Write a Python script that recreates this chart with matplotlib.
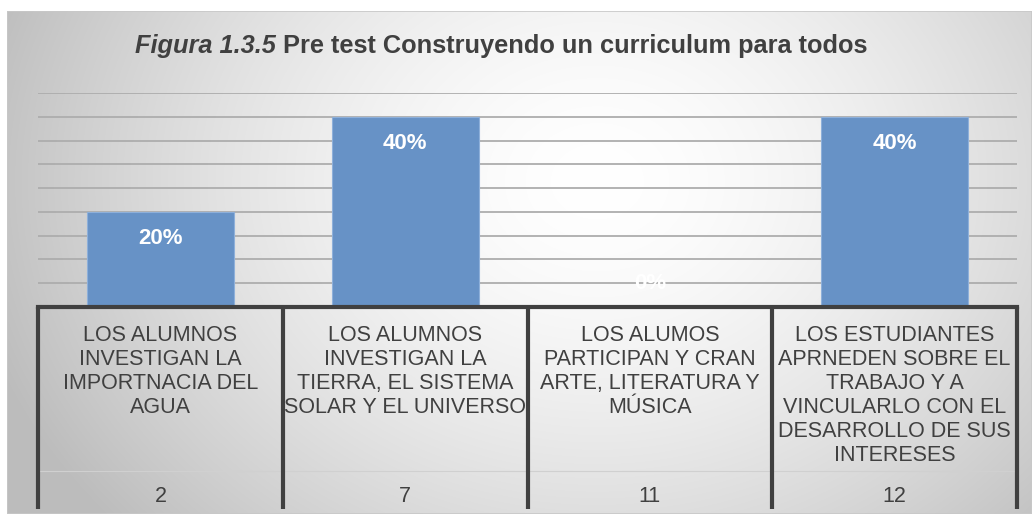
import numpy as np
import matplotlib
matplotlib.use("Agg")
import matplotlib.pyplot as plt
import matplotlib.ticker as mticker

# ---------------------------------------------------------------------------
# Data
# ---------------------------------------------------------------------------

categories = [
    "LOS ALUMNOS\nINVESTIGAN LA\nIMPORTNACIA DEL\nAGUA",
    "LOS ALUMNOS\nINVESTIGAN LA\nTIERRA, EL SISTEMA\nSOLAR Y EL UNIVERSO",
    "LOS ALUMOS\nPARTICIPAN Y CRAN\nARTE, LITERATURA Y\nMÚSICA",
    "LOS ESTUDIANTES\nAPRNEDEN SOBRE EL\nTRABAJO Y A\nVINCULARLO CON EL\nDESARROLLO DE SUS\nINTERESES",
]
item_numbers = ["2", "7", "11", "12"]
percentages = [0.20, 0.40, 0.0, 0.40]

TITLE_ITALIC = "Figura 1.3.5"
TITLE_REST = " Pre test Construyendo un curriculum para todos"

BAR_COLOR = "#6792c6"
TEXT_COLOR = "#404040"
FONT = "Liberation Sans"

W, H = 1032, 514
fig = plt.figure(figsize=(W / 100, H / 100), dpi=100)
fig.patch.set_facecolor("white")

# ---------------------------------------------------------------------------
# Chart area background (radial gradient like the Office style)
# ---------------------------------------------------------------------------
bg = fig.add_axes([7 / W, 0, 1 - 7 / W, 1 - 11 / H], zorder=0)
yy, xx = np.mgrid[0:503, 0:1025]
r = np.sqrt(((xx - 590) / 640.0) ** 2 + ((yy - 170) / 520.0) ** 2)
shade = 1.0 - 0.26 * np.clip(r, 0, 1) ** 1.6
bg.imshow(np.dstack([shade] * 3), aspect="auto", extent=(0, 1, 0, 1),
          interpolation="bilinear")
bg.set_axis_off()
frame = plt.Rectangle((0, 0), 1, 1, transform=bg.transAxes, fill=False,
                      edgecolor="#c8c8c8", linewidth=1.2)
bg.add_patch(frame)

# ---------------------------------------------------------------------------
# Bars
# ---------------------------------------------------------------------------
ax_left, ax_right = 38 / W, 1017 / W
ax_bottom, ax_top = 1 - 307 / H, 1 - 93 / H
ax = fig.add_axes([ax_left, ax_bottom, ax_right - ax_left, ax_top - ax_bottom], zorder=2)
ax.patch.set_alpha(0)

x = np.arange(len(categories))
bars = ax.bar(x, percentages, width=0.6, color=BAR_COLOR, edgecolor="#8eb0da",
              linewidth=0.8, zorder=3)
ax.set_xlim(-0.5, len(categories) - 0.5)
ax.set_ylim(0, 0.45)
ax.yaxis.set_major_locator(mticker.MultipleLocator(0.05))
ax.grid(axis="y", color="#adadad", linewidth=1.3, zorder=0)
ax.set_yticklabels([])
ax.tick_params(length=0, labelbottom=False, labelleft=False)
for side in ["top", "right", "left"]:
    ax.spines[side].set_visible(False)
ax.spines["bottom"].set_color(TEXT_COLOR)
ax.spines["bottom"].set_linewidth(3)
ax.spines["bottom"].set_zorder(5)

for xi, v in zip(x, percentages):
    # Excel puts the label inside the top of the bar; an empty bar gets it just above the axis
    dy = -19.5 if v > 0 else 17
    ax.annotate(f"{v:.0%}", (xi, v), xytext=(0, dy), textcoords="offset points",
                ha="center", va="center", fontsize=16, fontweight="bold",
                color="white", family=FONT, zorder=4)

# ---------------------------------------------------------------------------
# Multi-level category table under the axis
# ---------------------------------------------------------------------------
axis_h = (ax_top - ax_bottom) * H


def ypix(py):
    # pixel row (from top) -> axes fraction
    return ((H - py) / H - ax_bottom) * H / axis_h


trans = ax.get_xaxis_transform()
for b in np.arange(len(categories) + 1) - 0.5:
    ax.plot([b, b], [0, ypix(509)], color=TEXT_COLOR, linewidth=3,
            transform=trans, clip_on=False, zorder=5, solid_capstyle="butt")
ax.plot([-0.5, len(categories) - 0.5], [ypix(471)] * 2, color="#d0d0d0",
        linewidth=0.8, transform=trans, clip_on=False, zorder=1)

for xi, label, num in zip(x, categories, item_numbers):
    ax.text(xi, ypix(325), label, transform=trans, ha="center", va="top",
            fontsize=15.5, color=TEXT_COLOR, family=FONT, linespacing=1.19)
    ax.text(xi, ypix(497), num, transform=trans, ha="center", va="center",
            fontsize=15.5, color=TEXT_COLOR, family=FONT)

# ---------------------------------------------------------------------------
# Title (italic part + bold part, centred together)
# ---------------------------------------------------------------------------
t1 = fig.text(0, 1 - 46 / H, TITLE_ITALIC, fontsize=18.3, fontweight="bold",
              style="italic", color=TEXT_COLOR, family=FONT, va="center", ha="left")
t2 = fig.text(0, 1 - 46 / H, TITLE_REST, fontsize=18.3, fontweight="bold",
              color=TEXT_COLOR, family=FONT, va="center", ha="left")
renderer = fig.canvas.get_renderer()
w1 = t1.get_window_extent(renderer).width
w2 = t2.get_window_extent(renderer).width
start = 501 - (w1 + w2) / 2
t1.set_x(start / W)
t2.set_x((start + w1) / W)

fig.savefig("out.png", dpi=100, facecolor="white")
